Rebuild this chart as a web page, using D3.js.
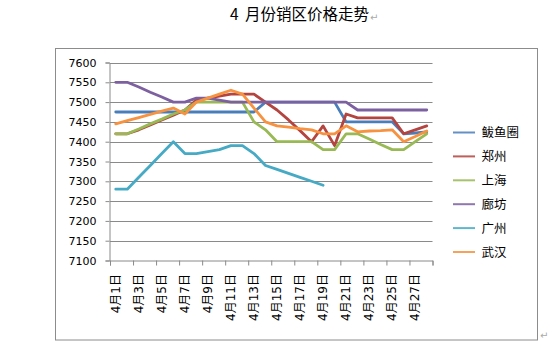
<!DOCTYPE html>
<html><head><meta charset="utf-8">
<script src="https://cdn.jsdelivr.net/npm/d3@7"></script>
<style>
html,body{margin:0;padding:0;background:#fff;}
svg{display:block;}
</style>
</head><body>
<script>
const title = "4 月份销区价格走势";
const categories = ["4月1日","4月2日","4月3日","4月4日","4月5日","4月6日","4月7日","4月8日","4月9日","4月10日",
  "4月11日","4月12日","4月13日","4月14日","4月15日","4月16日","4月17日","4月18日","4月19日","4月20日",
  "4月21日","4月22日","4月23日","4月24日","4月25日","4月26日","4月27日","4月28日"];
const tickLabels = ["4月1日","4月3日","4月5日","4月7日","4月9日","4月11日","4月13日","4月15日","4月17日","4月19日","4月21日","4月23日","4月25日","4月27日"];
const yTicks = [7100,7150,7200,7250,7300,7350,7400,7450,7500,7550,7600];
const seriesNames = ["鲅鱼圈","郑州","上海","廊坊","广州","武汉"];
const seriesColors = ["#4A7EBB","#B3443F","#98B954","#7D60A0","#46AAC5","#F69240"];
const byq = [7475,7475,7475,7475,7475,7475,7475,7475,7475,7475,7475,7475,7475,
  7500,7500,7500,7500,7500,7500,7500,7450,7450,7450,7450,7450,7420,7422,7425];
const zz = [7420,7420,7430,7442,7455,7467,7480,7505,7510,7515,7520,7520,7520,7500,7480,7455,7428,7400,7440,7390,
  7470,7460,7460,7460,7460,7420,7430,7440];
const sh = [7420,7420,7432,7445,7457,7470,7480,7500,7500,7500,7500,7500,7450,7430,7400,7400,7400,7400,7380,7380,
  7420,7420,7407,7393,7380,7380,7400,7420];
const lf = [7550,7550,7538,7525,7513,7500,7500,7510,7510,7505,7500,7500,7500,7500,7500,7500,7500,7500,7500,7500,
  7500,7480,7480,7480,7480,7480,7480,7480];
const gz = [7280,7280,7310,7340,7370,7400,7370,7370,7375,7380,7390,7390,7370,7340,7330,7320,7310,7300,7290,
  null,null,null,null,null,null,null,null,null];
const wh = [7445,7453,7461,7469,7477,7485,7470,7500,7510,7520,7530,7520,7485,7450,7440,7437,7433,7430,7420,7420,
  7440,7425,7427,7428,7430,7400,7413,7427];
const seriesValues = [byq, zz, sh, lf, gz, wh];

const W = 559, H = 348;
const svg = d3.select("body").append("svg").attr("width", W).attr("height", H);
const cjk = "'Noto Sans CJK SC','DejaVu Sans',sans-serif";
const num = "'DejaVu Sans','Noto Sans CJK SC',sans-serif";

// title (Word paragraph)
svg.append("text").attr("x", 230).attr("y", 20).attr("font-family", cjk).attr("font-size", 15.5)
  .attr("word-spacing", 3).attr("fill", "#000").text(title);
svg.append("text").attr("x", 370).attr("y", 21).attr("font-family", num).attr("font-size", 10)
  .attr("fill", "#aaa").text("↵");

// chart frame
svg.append("rect").attr("x", 55.5).attr("y", 48.5).attr("width", 482).attr("height", 291.5)
  .attr("fill", "none").attr("stroke", "#8c8c8c").attr("stroke-width", 1);
svg.append("text").attr("x", 540).attr("y", 339).attr("font-family", num).attr("font-size", 10)
  .attr("fill", "#aaa").text("↵");

const x0 = 110, x1 = 432.5, yTop = 62.5, yBot = 260.5;
const x = d3.scaleBand().domain(categories).range([x0, x1]).padding(0);
const xb = d3.scaleLinear().domain([0, categories.length]).range([x0, x1]);
const y = d3.scaleLinear().domain([7100, 7600]).range([yBot, yTop]);

// gridlines
svg.append("g").selectAll("line").data(yTicks.filter(v => v > 7100)).join("line")
  .attr("x1", x0).attr("x2", x1).attr("y1", d => Math.round(y(d)) + 0.5).attr("y2", d => Math.round(y(d)) + 0.5)
  .attr("stroke", "#8a8a8a").attr("stroke-width", 1);

// y axis
const yAxis = svg.append("g").attr("transform", `translate(${x0 - 0.5},0)`)
  .call(d3.axisLeft(y).tickValues(yTicks).tickSize(4).tickPadding(9).tickFormat(d3.format("d")));
yAxis.select(".domain").attr("stroke", "#8a8a8a");
yAxis.selectAll(".tick line").attr("stroke", "#8a8a8a");
yAxis.selectAll("text").attr("font-family", num).attr("font-size", 11).attr("fill", "#000");

// x axis: tick marks at category boundaries every 2 categories
const xTickAxis = svg.append("g").attr("transform", `translate(0,${yBot})`)
  .call(d3.axisBottom(xb).tickValues(d3.range(0, categories.length + 1, 2)).tickSize(5).tickFormat(""));
xTickAxis.select(".domain").attr("stroke", "#8a8a8a");
xTickAxis.selectAll(".tick line").attr("stroke", "#8a8a8a");

// x labels
const xLab = svg.append("g").attr("transform", `translate(0,${yBot})`)
  .call(d3.axisBottom(x).tickValues(tickLabels).tickSize(0));
xLab.select(".domain").remove();
xLab.selectAll("text").attr("font-family", num).attr("font-size", 12).attr("fill", "#000")
  .attr("transform", "rotate(-90)").attr("text-anchor", "end")
  .attr("x", -13.5).attr("y", 0).attr("dy", "0.35em");

// lines
const line = d3.line().defined(d => d.v != null)
  .x(d => x(d.c) + x.bandwidth() / 2).y(d => y(d.v));
seriesValues.forEach((vals, i) => {
  svg.append("path")
    .datum(vals.map((v, j) => ({ c: categories[j], v })))
    .attr("d", line).attr("fill", "none").attr("stroke", seriesColors[i])
    .attr("stroke-width", 2.8).attr("stroke-linejoin", "round").attr("stroke-linecap", "round");
});

// legend
const leg = svg.append("g");
seriesNames.forEach((n, i) => {
  const cy = 132.5 + i * 23.9;
  leg.append("line").attr("x1", 453).attr("x2", 475).attr("y1", cy).attr("y2", cy)
    .attr("stroke", seriesColors[i]).attr("stroke-width", 2).attr("opacity", 0.85);
  leg.append("text").attr("x", 481.5).attr("y", cy).attr("dy", "0.36em")
    .attr("font-family", cjk).attr("font-size", 12.5).attr("fill", "#000").text(n);
});
</script>
</body></html>
